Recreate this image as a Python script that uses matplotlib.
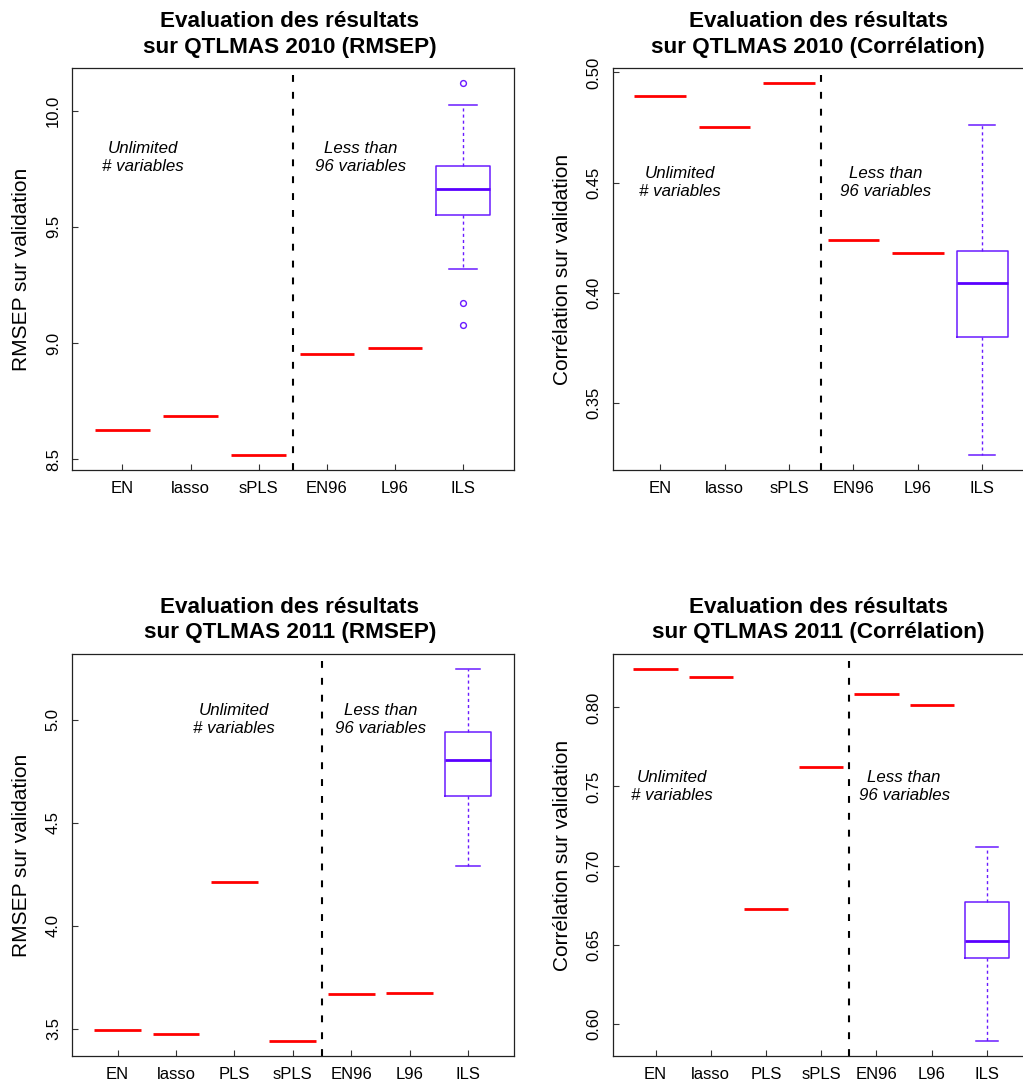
import matplotlib
matplotlib.use("Agg")
import matplotlib.pyplot as plt
from matplotlib.ticker import MultipleLocator, FormatStrFormatter

plt.rcParams['font.family'] = ['Liberation Sans', 'DejaVu Sans']

# ---------------- data ----------------
cats2010 = ["EN", "lasso", "sPLS", "EN96", "L96", "ILS"]
cats2011 = ["EN", "lasso", "PLS", "sPLS", "EN96", "L96", "ILS"]

rmsep2010 = [8.625, 8.684, 8.516, 8.952, 8.979]
ils_rmsep2010 = [9.318, 9.551, 9.663, 9.761, 10.025]   # whislo, q1, med, q3, whishi
ils_rmsep2010_out = [10.119, 9.173, 9.077]

cor2010 = [0.4895, 0.4750, 0.4951, 0.4241, 0.4180]
ils_cor2010 = [0.3261, 0.3797, 0.4042, 0.4189, 0.4760]
ils_cor2010_out = []

rmsep2011 = [3.494, 3.476, 4.211, 3.440, 3.668, 3.675]
ils_rmsep2011 = [4.289, 4.627, 4.806, 4.942, 5.246]
ils_rmsep2011_out = []

cor2011 = [0.8244, 0.8190, 0.6727, 0.7625, 0.8084, 0.8016]
ils_cor2011 = [0.5889, 0.6413, 0.6525, 0.6771, 0.7117]
ils_cor2011_out = []

titles = ["Evaluation des résultats\nsur QTLMAS 2010 (RMSEP)",
          "Evaluation des résultats\nsur QTLMAS 2010 (Corrélation)",
          "Evaluation des résultats\nsur QTLMAS 2011 (RMSEP)",
          "Evaluation des résultats\nsur QTLMAS 2011 (Corrélation)"]
ylabels = ["RMSEP sur validation", "Corrélation sur validation",
           "RMSEP sur validation", "Corrélation sur validation"]

# ---------------- layout ----------------
W, H = 1023, 1084
fig = plt.figure(figsize=(W / 100, H / 100), dpi=100)

RED = "#FF0000"
PURPLE = "#6A1BFF"
MEDPURPLE = "#5A00FF"

panels = [
    # x0, width, ytop, ybottom (pixels)
    dict(px=(72, 441.5, 68.3, 470.3), cats=cats2010, vals=rmsep2010, ils=ils_rmsep2010,
         out=ils_rmsep2010_out, step=0.5, fmt='%.1f', sep=3.5, txt1=(1.3, 9.8), txt2=(4.5, 9.8)),
    dict(px=(612.5, 417.5, 68.3, 470.3), cats=cats2010, vals=cor2010, ils=ils_cor2010,
         out=ils_cor2010_out, step=0.05, fmt='%.2f', sep=3.5, txt1=(1.3, 0.45), txt2=(4.5, 0.45)),
    dict(px=(72, 441.5, 654, 1056), cats=cats2011, vals=rmsep2011, ils=ils_rmsep2011,
         out=ils_rmsep2011_out, step=0.5, fmt='%.1f', sep=4.5, txt1=(3.0, 5.0), txt2=(5.5, 5.0)),
    dict(px=(612.5, 417.5, 654, 1056), cats=cats2011, vals=cor2011, ils=ils_cor2011,
         out=ils_cor2011_out, step=0.05, fmt='%.2f', sep=4.5, txt1=(1.3, 0.75), txt2=(5.5, 0.75)),
]

for i, p in enumerate(panels):
    x0, w, yt, yb = p['px']
    h = yb - yt
    ax = fig.add_axes([x0 / W, (H - yb) / H, w / W, h / H])
    n = len(p['cats'])
    pos = list(range(1, n + 1))

    # single-value methods: flat red lines of box width 0.8
    ax.hlines(p['vals'], [q - 0.4 for q in pos[:-1]], [q + 0.4 for q in pos[:-1]],
              colors=RED, lw=2.0, zorder=3)

    # ILS boxplot
    lo, q1, med, q3, hi = p['ils']
    stats = [dict(whislo=lo, q1=q1, med=med, q3=q3, whishi=hi, fliers=p['out'])]
    ax.bxp(stats, positions=[n], widths=0.8, capwidths=0.4, showfliers=True,
           boxprops=dict(color=PURPLE, lw=1.1),
           medianprops=dict(color=MEDPURPLE, lw=2.0),
           whiskerprops=dict(color=PURPLE, lw=1.0, linestyle=(0, (2.2, 2.2))),
           capprops=dict(color=PURPLE, lw=1.1),
           flierprops=dict(marker='o', markerfacecolor='none', markeredgecolor=PURPLE,
                           markersize=4.2, markeredgewidth=1.0))

    # separator
    ax.axvline(p['sep'], color='black', lw=1.5, linestyle=(0, (3.3, 4.8)), zorder=2)

    # limits like R (4% extension)
    allv = list(p['vals']) + list(p['ils']) + list(p['out'])
    ymin, ymax = min(allv), max(allv)
    pad = 0.04 * (ymax - ymin)
    ax.set_ylim(ymin - pad, ymax + pad)
    xpad = 0.04 * n
    ax.set_xlim(0.5 - xpad, n + 0.5 + xpad)

    ax.set_xticks(pos)
    ax.set_xticklabels(p['cats'])
    ax.yaxis.set_major_locator(MultipleLocator(p['step']))
    ax.yaxis.set_major_formatter(FormatStrFormatter(p['fmt']))
    ax.tick_params(axis='both', direction='in', length=4.5, width=0.8, labelsize=12,
                   colors='#333333', labelcolor='black')
    ax.tick_params(axis='x', pad=8)
    ax.tick_params(axis='y', pad=8)
    for lab in ax.get_yticklabels():
        lab.set_rotation(90)
        lab.set_va('center')
    for s in ax.spines.values():
        s.set_linewidth(0.9)
        s.set_color('#222222')

    ax.set_ylabel(ylabels[i], fontsize=15, va='center')
    ax.yaxis.set_label_coords(-50.5 / w, 0.5)

    ax.text(0.5 - 3 / w, 1 + 34 / h, titles[i], transform=ax.transAxes, ha='center',
            va='center', fontsize=16.2, fontweight='bold', linespacing=1.3)

    ax.text(p['txt1'][0], p['txt1'][1], "Unlimited\n# variables", ha='center', va='center',
            style='italic', fontsize=12.2, linespacing=1.25)
    ax.text(p['txt2'][0], p['txt2'][1], "Less than\n96 variables", ha='center', va='center',
            style='italic', fontsize=12.2, linespacing=1.25)

fig.savefig("out.png", dpi=100)
